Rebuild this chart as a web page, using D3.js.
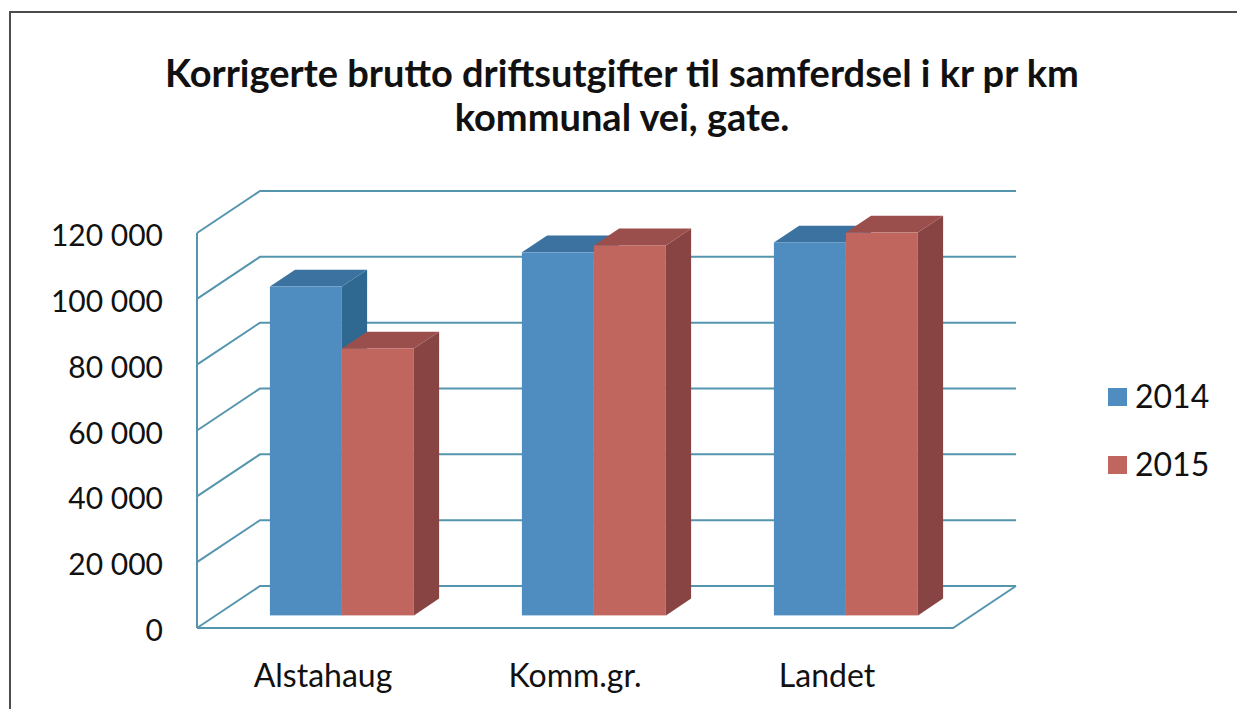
<!DOCTYPE html>
<html><head><meta charset="utf-8">
<script src="https://cdn.jsdelivr.net/npm/d3@7"></script>
<style>
html,body{margin:0;padding:0;background:#fff;}
svg{display:block;font-family:Lato, "Open Sans", sans-serif;}
</style></head>
<body>
<svg id="chart" width="1237" height="709"></svg>
<script>
const titleLines = ["Korrigerte brutto driftsutgifter til samferdsel i kr pr km", "kommunal vei, gate."];
const categories = ["Alstahaug", "Komm.gr.", "Landet"];
const seriesNames = ["2014", "2015"];
const values2014 = [99900, 110300, 113300];
const values2015 = [81100, 112400, 116300];
const yTicks = [0, 20000, 40000, 60000, 80000, 100000, 120000];
const tickLabels = ["0", "20 000", "40 000", "60 000", "80 000", "100 000", "120 000"];

const svg = d3.select("#chart");
const colors = {
  "2014": {front: "#4f8cc0", top: "#3b72a0", side: "#2f6891"},
  "2015": {front: "#c0665f", top: "#9b4f4c", side: "#874442"}
};
const gridColor = "#5596ae";

// frame
svg.append("rect").attr("x", 10).attr("y", 12).attr("width", 1240).attr("height", 710)
  .attr("fill", "#fff").attr("stroke", "#4d4d4d").attr("stroke-width", 2);

// title
svg.append("g").selectAll("text").data(titleLines).join("text")
  .attr("x", 622).attr("y", (d, i) => 87 + i * 44)
  .attr("text-anchor", "middle").attr("font-size", 38).attr("font-weight", "bold")
  .attr("fill", "#111").text(d => d);

// geometry
const x0 = 197, x1 = 953, yF = 628, yT = 233;
const dx = 63, dy = -42;
const y = d3.scaleLinear().domain([0, 120000]).range([yF, yT]);
const x = d3.scaleBand().domain(categories).range([x0, x1]).padding(0);
const bw = x.bandwidth() / 3.5;
const xs = d3.scaleBand().domain(seriesNames).range([0.75 * bw, 2.75 * bw]).padding(0);

const g = svg.append("g");
yTicks.forEach(t => {
  const yy = y(t);
  g.append("path")
    .attr("d", `M${x0},${yy}L${x0 + dx},${yy + dy}L${x1 + dx},${yy + dy}`)
    .attr("fill", "none").attr("stroke", gridColor).attr("stroke-width", 2);
});
g.append("line").attr("x1", x0).attr("x2", x0).attr("y1", y(120000)).attr("y2", yF)
  .attr("stroke", gridColor).attr("stroke-width", 2);
g.append("path")
  .attr("d", `M${x0},${yF}L${x1},${yF}L${x1 + dx},${yF + dy}`)
  .attr("fill", "none").attr("stroke", gridColor).attr("stroke-width", 2);

// y labels
svg.append("g").selectAll("text").data(yTicks).join("text")
  .attr("x", 163).attr("y", d => y(d) + 13)
  .attr("text-anchor", "end").attr("font-size", 30).attr("fill", "#111")
  .text((d, i) => tickLabels[i]);

// x labels
svg.append("g").selectAll("text").data(categories).join("text")
  .attr("x", d => x(d) + x.bandwidth() / 2).attr("y", 687)
  .attr("text-anchor", "middle").attr("font-size", 32).attr("fill", "#111")
  .text(d => d);

// bars
const f0 = 0.3, f1 = 0.7;
const data = [];
categories.forEach((c, i) => {
  data.push({cat: c, s: "2014", v: values2014[i]});
  data.push({cat: c, s: "2015", v: values2015[i]});
});
const ox = f0 * dx, oy = f0 * dy;
const ddx = (f1 - f0) * dx, ddy = (f1 - f0) * dy;
const bars = svg.append("g");
data.forEach(d => {
  const left = x(d.cat) + xs(d.s) + ox;
  const right = left + xs.bandwidth();
  const top = y(d.v) + oy;
  const bottom = y(0) + oy;
  const c = colors[d.s];
  const bg = bars.append("g");
  bg.append("path").attr("d", `M${right},${top}L${right + ddx},${top + ddy}L${right + ddx},${bottom + ddy}L${right},${bottom}Z`)
    .attr("fill", c.side);
  bg.append("path").attr("d", `M${left},${top}L${left + ddx},${top + ddy}L${right + ddx},${top + ddy}L${right},${top}Z`)
    .attr("fill", c.top);
  bg.append("rect").attr("x", left).attr("y", top).attr("width", right - left).attr("height", bottom - top)
    .attr("fill", c.front);
});

// legend
const lg = svg.append("g").selectAll("g").data(seriesNames).join("g")
  .attr("transform", (d, i) => `translate(1108,${388 + i * 68})`);
lg.append("rect").attr("width", 19).attr("height", 18).attr("fill", d => colors[d].front);
lg.append("text").attr("x", 27).attr("y", 20).attr("font-size", 32).attr("fill", "#111").text(d => d);
</script>
</body></html>
